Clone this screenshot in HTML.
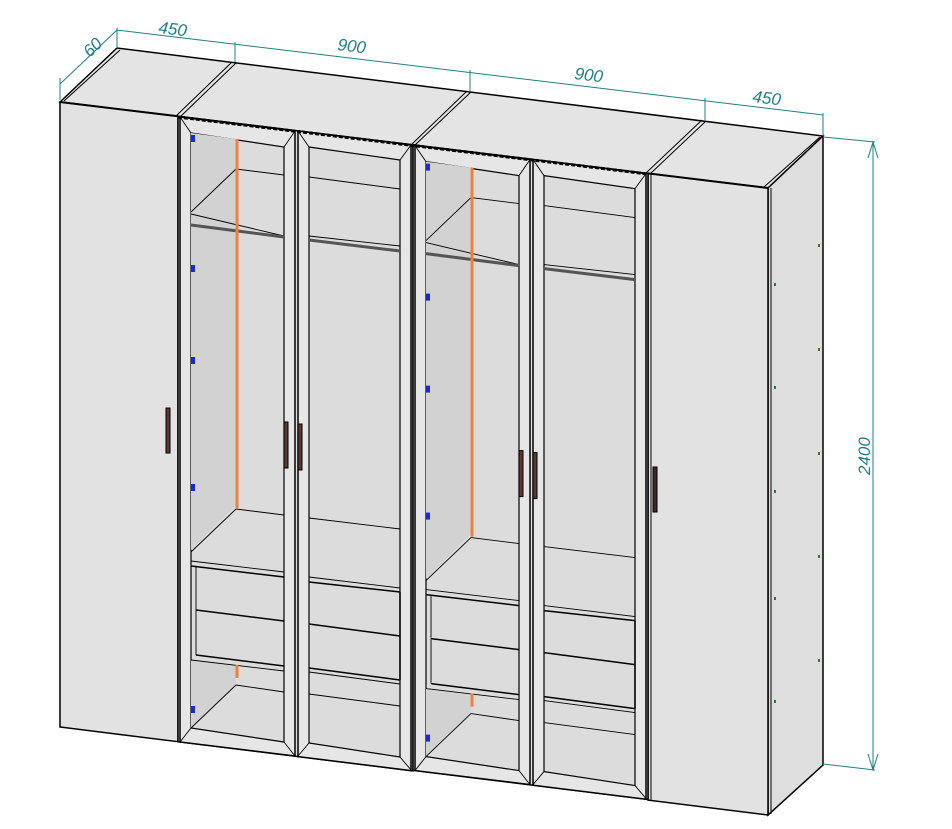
<!DOCTYPE html>
<html><head><meta charset="utf-8"><style>
html,body{margin:0;padding:0;background:#fff;}
svg{display:block;}
text{font-family:"Liberation Sans",sans-serif;font-style:italic;fill:#1f7f86;font-size:17px;}
</style></head><body>
<svg width="952" height="829" viewBox="0 0 952 829" xmlns="http://www.w3.org/2000/svg">
<!-- top face -->
<polygon points="60,102 117,48 823,136 768,188" fill="#e4e4e4" stroke="#000" stroke-width="1.5"/>
<g stroke="#000" stroke-width="1" fill="none">
<line x1="180" y1="117" x2="236" y2="63"/><line x1="176" y1="116" x2="232" y2="62"/>
<line x1="415" y1="145" x2="471" y2="92"/><line x1="411" y1="145" x2="467" y2="91"/>
<line x1="650" y1="174" x2="706" y2="121"/><line x1="646" y1="173" x2="702" y2="120"/>
<line x1="64" y1="101" x2="120" y2="50"/><line x1="764" y1="187" x2="820" y2="137"/>
</g>
<!-- right side -->
<polygon points="768,188 823,136 823,765 768,815" fill="#dedede" stroke="#000" stroke-width="1.5"/>
<line x1="771" y1="188" x2="771" y2="814" stroke="#000" stroke-width="1"/>
<!-- left door -->
<polygon points="60,102 178,116.3 178,741.7 60,727" fill="#e2e2e2" stroke="#000" stroke-width="1.5"/>
<!-- right door -->
<polygon points="648,173.4 768,188 768,815 648,800.1" fill="#e2e2e2" stroke="#000" stroke-width="1.5"/>
<line x1="651" y1="174" x2="651" y2="800" stroke="#000" stroke-width="1"/>
<!-- glass section 1 -->
<g id="sec">
<polygon points="178,116.3 413,144.9 413,770.9 178,741.7" fill="#e0e0e0" stroke="#000" stroke-width="1.5"/>
<!-- door1 -->
<polygon points="180,117 295,131 295,756 180,742" fill="#e6e6e6" stroke="#000" stroke-width="1.5"/>
<polygon points="191,133 284,147 284,742 191,728" fill="#dcdcdc" stroke="#000" stroke-width="1.2"/>
<polygon points="191,133 236,139 236,505 191,550" fill="#d2d2d2"/>
<polygon points="191,660 236,665 236,685 191,728" fill="#d2d2d2"/>
<g stroke="#000" stroke-width="0.9" fill="none">
<line x1="180" y1="117" x2="191" y2="133"/><line x1="295" y1="131" x2="284" y2="147"/>
<line x1="180" y1="742" x2="191" y2="728"/><line x1="295" y1="756" x2="284" y2="742"/>
<line x1="236" y1="169" x2="284" y2="175"/><line x1="191" y1="212" x2="236" y2="169"/>
<line x1="191" y1="214" x2="284" y2="236"/>
<line x1="236" y1="509" x2="284" y2="515"/><line x1="191" y1="552" x2="236" y2="509"/>
<line x1="191" y1="561" x2="284" y2="572"/><line x1="191" y1="566" x2="284" y2="577" stroke-width="1.5"/>
<line x1="196" y1="566" x2="196" y2="655"/>
<line x1="196" y1="610" x2="284" y2="621" stroke-width="1.5"/>
<line x1="196" y1="655" x2="284" y2="666" stroke-width="1.5"/>
<line x1="191" y1="660" x2="284" y2="671"/>
<line x1="236" y1="685" x2="284" y2="692"/><line x1="191" y1="728" x2="236" y2="685"/>
</g>
<line x1="191" y1="225" x2="284" y2="237" stroke="#555" stroke-width="3"/>
<line x1="237" y1="139" x2="237" y2="508" stroke="#f08040" stroke-width="3"/>
<line x1="237" y1="665" x2="237" y2="678" stroke="#f08040" stroke-width="3"/>
<g fill="#1a2ad0"><rect x="191" y="135" width="4" height="7"/><rect x="191" y="265" width="4" height="7"/><rect x="191" y="357" width="4" height="7"/><rect x="191" y="484" width="4" height="7"/><rect x="191" y="706" width="4" height="7"/></g>
<!-- door2 -->
<polygon points="298,131 411,145 411,770.6 298,756.6" fill="#e6e6e6" stroke="#000" stroke-width="1.5"/>
<polygon points="309,147 400,160 400,757 309,743" fill="#dcdcdc" stroke="#000" stroke-width="1.2"/>
<g stroke="#000" stroke-width="0.9" fill="none">
<line x1="298" y1="131" x2="309" y2="147"/><line x1="411" y1="145" x2="400" y2="160"/>
<line x1="298" y1="756" x2="309" y2="743"/><line x1="411" y1="770" x2="400" y2="757"/>
<line x1="309" y1="177" x2="400" y2="189"/>
<line x1="309" y1="236" x2="400" y2="246"/>
<line x1="309" y1="518" x2="400" y2="529"/>
<line x1="309" y1="577" x2="400" y2="588"/><line x1="309" y1="582" x2="400" y2="592" stroke-width="1.5"/>
<line x1="400" y1="592" x2="400" y2="680" stroke-width="1.5"/>
<line x1="309" y1="624" x2="400" y2="636" stroke-width="1.5"/>
<line x1="309" y1="668" x2="400" y2="680" stroke-width="1.5"/>
<line x1="309" y1="672" x2="400" y2="684"/>
<line x1="309" y1="694" x2="400" y2="706"/>
</g>
<line x1="309" y1="240" x2="400" y2="251" stroke="#555" stroke-width="3"/>
<!-- handles -->
<rect x="284" y="422" width="4" height="46" fill="#5a3a30" stroke="#000" stroke-width="1"/>
<rect x="298" y="424" width="4" height="46" fill="#5a3a30" stroke="#000" stroke-width="1"/>
</g>
<!-- section 2 -->
<use href="#sec" transform="translate(235,28.6)"/>
<!-- top front dashed edge -->
<line x1="178" y1="117" x2="648" y2="174" stroke="#000" stroke-width="3" stroke-dasharray="4,2"/>
<line x1="60" y1="102" x2="178" y2="116.3" stroke="#000" stroke-width="2"/>
<line x1="648" y1="173.4" x2="768" y2="188" stroke="#000" stroke-width="2"/>
<!-- left/right handles -->
<rect x="166" y="408" width="4" height="45" fill="#5a3a30" stroke="#000" stroke-width="1"/>
<rect x="653" y="467" width="4" height="45" fill="#3a2a28" stroke="#000" stroke-width="1"/>
<!-- right side dots -->
<g fill="#2a7a2a"><rect x="818" y="244" width="2" height="3"/><rect x="774" y="283" width="2" height="3"/><rect x="818" y="348" width="2" height="3"/><rect x="774" y="386" width="2" height="3"/><rect x="818" y="452" width="2" height="3"/><rect x="774" y="490" width="2" height="3"/><rect x="818" y="555" width="2" height="3"/><rect x="774" y="597" width="2" height="3"/><rect x="818" y="659" width="2" height="3"/><rect x="774" y="700" width="2" height="3"/></g>
<!-- dimensions -->
<g stroke="#1f7f86" stroke-width="1" fill="none">
<line x1="117" y1="30" x2="823" y2="115"/>
<line x1="117" y1="28" x2="117" y2="48"/><line x1="235" y1="42" x2="235" y2="62"/><line x1="470" y1="70" x2="470" y2="92"/><line x1="705" y1="98" x2="705" y2="120"/><line x1="823" y1="113" x2="823" y2="136"/>
<line x1="60" y1="84" x2="117" y2="30"/><line x1="60" y1="78" x2="60" y2="100"/>
<line x1="823" y1="137" x2="875" y2="142"/><line x1="873" y1="142" x2="873" y2="770"/><line x1="823" y1="764" x2="875" y2="770"/>
<polyline points="868,158 873,142 878,158"/><polyline points="868,754 873,770 878,754"/>
</g>
<text transform="translate(158,33) rotate(7)">450</text>
<text transform="translate(337,50) rotate(7)">900</text>
<text transform="translate(574,79) rotate(7)">900</text>
<text transform="translate(752,102) rotate(7)">450</text>
<text transform="translate(90,58) rotate(-45)" font-size="14">60</text>
<text transform="translate(870,475) rotate(-90)">2400</text>
</svg>
</body></html>
